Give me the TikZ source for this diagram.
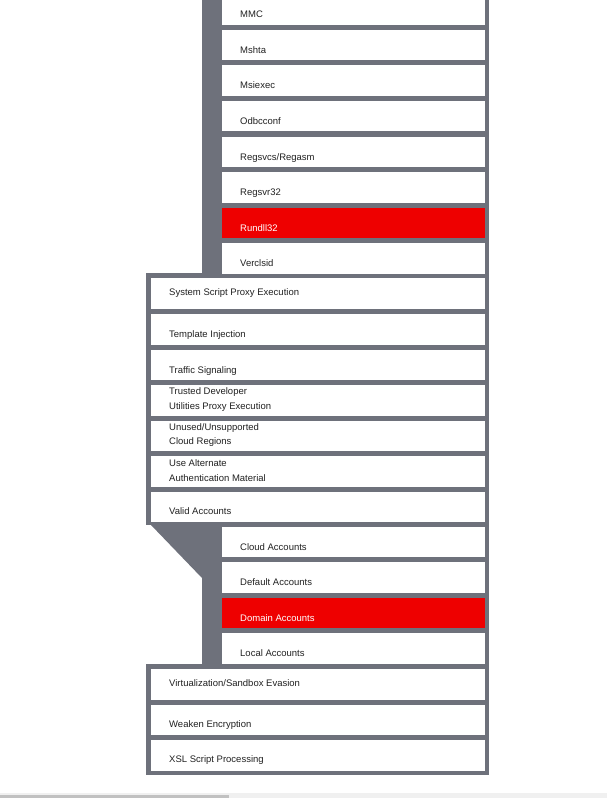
\documentclass[tikz,border=0pt]{standalone}
\usepackage{fontspec}
\setmainfont{Liberation Sans}
\usetikzlibrary{calc}
\definecolor{cellgrey}{HTML}{6E717B}
\definecolor{cellred}{HTML}{EE0000}
\definecolor{celltext}{HTML}{222222}
\definecolor{sbtrack}{HTML}{F0F0F0}
\definecolor{sbthumb}{HTML}{C1C1C1}
\newcommand{\mksub}[4][]{%
  \node[subcell,#1] (#2) at (222,#3) {};
  \node[lbl] (#2-t) at ($(#2.north west)+(18,23.5)$) {#4};}
\newcommand{\mksubred}[3]{%
  \node[subcell,redcell] (#1) at (222,#2) {};
  \node[redlbl] (#1-t) at ($(#1.north west)+(18,23.5)$) {#3};}
\newcommand{\mkmain}[4]{%
  \node[maincell] (#1) at (151,#2) {};
  \node[lbl] (#1-t) at ($(#1.north west)+(18,#3)$) {#4};}
\newcommand{\mkmaintwo}[3]{%
  \node[maincell] (#1) at (151,#2) {};
  \node[twolbl] (#1-t) at ($(#1.west)+(18,-0.5)$) {#3};}
\begin{document}
\begin{tikzpicture}[x=1pt,y=-1pt,
  cell/.style={rectangle, fill=white, inner sep=0pt, outer sep=0pt, anchor=north west, minimum height=30.5pt},
  maincell/.style={cell, minimum width=333.5pt},
  subcell/.style={cell, minimum width=262.5pt},
  redcell/.style={fill=cellred},
  lbl/.style={anchor=base west, inner sep=0pt, font=\fontsize{9.5}{14.5}\selectfont, text=celltext},
  redlbl/.style={lbl, text=white},
  twolbl/.style={anchor=west, inner sep=0pt, align=left, font=\fontsize{9.5}{14.5}\selectfont, text=celltext}
]
\useasboundingbox (0,0) rectangle (607,798);
\fill[white] (0,0) rectangle (607,798);
% grey backgrounds
\fill[cellgrey] (202,0) rectangle (489,273);
\fill[cellgrey] (146,273) rectangle (489,525);
\fill[cellgrey] (202,525) rectangle (489,664);
\fill[cellgrey] (151,525) -- (202,578) -- (202,525) -- cycle;
\fill[cellgrey] (146,664) rectangle (489,775);
% sub-techniques, upper group
\mksub{mmc}{-5.9}{MMC}
\mksub{mshta}{29.7}{Mshta}
\mksub{msiexec}{65.3}{Msiexec}
\mksub{odbcconf}{100.9}{Odbcconf}
\mksub{regsvcs}{136.5}{Regsvcs/Regasm}
\mksub{regsvr}{172.1}{Regsvr32}
\mksubred{rundll}{207.7}{Rundll32}
\mksub{verclsid}{243.3}{Verclsid}
% techniques
\mkmain{sspe}{278.2}{17.3}{System Script Proxy Execution}
\mkmain{template}{314}{23.5}{Template Injection}
\mkmain{traffic}{349.5}{23.5}{Traffic Signaling}
\mkmaintwo{trusted}{385}{Trusted Developer\\Utilities Proxy Execution}
\mkmaintwo{unused}{420.5}{Unused/Unsupported\\Cloud Regions}
\mkmaintwo{usealt}{456}{Use Alternate\\Authentication Material}
\mkmain{valid}{491.5}{23.3}{Valid Accounts}
% sub-techniques, lower group
\mksub{cloud}{526.8}{Cloud Accounts}
\mksub{default}{562.3}{Default Accounts}
\mksubred{domain}{597.8}{Domain Accounts}
\mksub{local}{633.3}{Local Accounts}
% techniques
\mkmain{virt}{669}{17.6}{Virtualization/Sandbox Evasion}
\mkmain{weaken}{704.5}{22.5}{Weaken Encryption}
\mkmain{xsl}{740}{22.8}{XSL Script Processing}
% scrollbar
\fill[sbtrack] (0,792.7) rectangle (607,798);
\fill[sbthumb] (0,794.7) rectangle (229,798);
\end{tikzpicture}
\end{document}
